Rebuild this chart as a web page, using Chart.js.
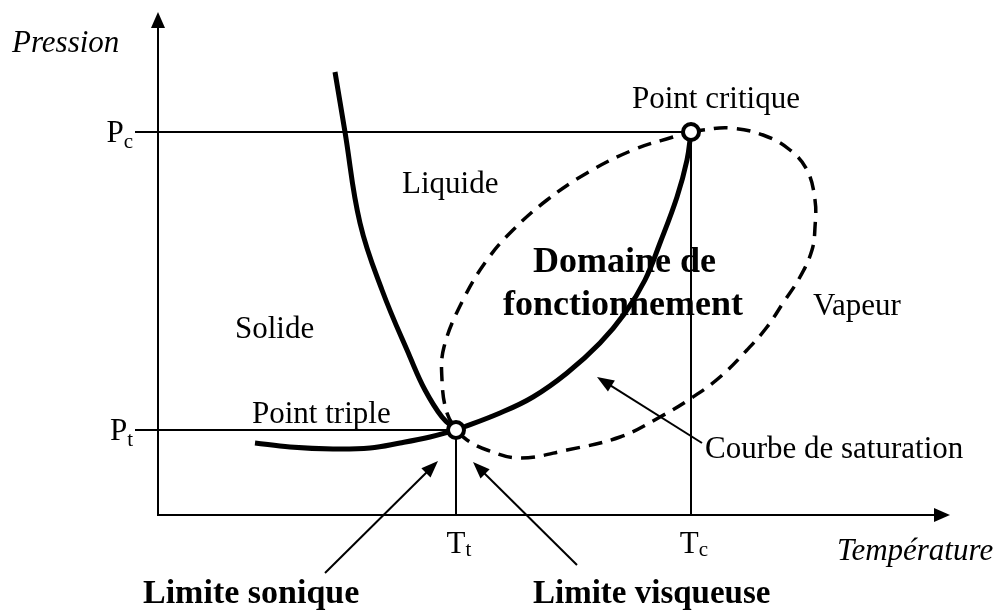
<!DOCTYPE html>
<html><head><meta charset="utf-8">
<script src="https://cdn.jsdelivr.net/npm/chart.js@4/dist/chart.umd.min.js"></script>
<style>html,body{margin:0;padding:0;background:#fff;}#wrap{width:1002px;height:611px;}</style>
</head><body><div id="wrap"><canvas id="c" width="1002" height="611"></canvas></div>
<script>
// ---- data (arbitrary units, origin at the axes' corner) ----
const T_TRIPLE = 2.98, P_TRIPLE = 0.85;
const T_CRIT = 5.33, P_CRIT = 3.83;
const T_TICK_LABELS = [['T', 't'], ['T', 'c']];
const P_TICK_LABELS = [['P', 't'], ['P', 'c']];

const fusionT = [1.77, 1.87, 2.02, 2.24, 2.52, 2.67, 2.84, 2.98];
const fusionP = [4.43, 3.83, 2.92, 2.25, 1.58, 1.25, 0.98, 0.85];

const sublimT = [0.97, 1.32, 1.75, 2.12, 2.42, 2.72, 2.98];
const sublimP = [0.72, 0.68, 0.66, 0.67, 0.72, 0.78, 0.85];

const vaporT = [2.98, 3.42, 3.75, 4.09, 4.42, 4.67, 4.87, 5.02, 5.19, 5.29, 5.33];
const vaporP = [0.85, 1.02, 1.18, 1.42, 1.72, 2.02, 2.35, 2.72, 3.18, 3.55, 3.83];

const satT = [5.33, 5.45, 5.72, 6.05, 6.32, 6.49, 6.57, 6.57, 6.54, 6.42, 6.25, 6.09, 5.89, 5.62, 5.35, 5.02, 4.62, 4.09, 3.62, 3.29, 3.09, 2.99, 2.89, 2.84, 2.86, 3.05, 3.29, 3.55, 3.89, 4.29, 4.75, 5.15, 5.33];
const satP = [3.83, 3.85, 3.87, 3.80, 3.65, 3.45, 3.15, 2.88, 2.65, 2.38, 2.12, 1.88, 1.65, 1.38, 1.18, 0.98, 0.78, 0.65, 0.57, 0.65, 0.75, 0.85, 1.02, 1.35, 1.68, 2.15, 2.55, 2.85, 3.15, 3.42, 3.65, 3.78, 3.83];

// ---- layout / annotation config (kept apart from data) ----
const X_MIN = -1.58, X_MAX = 8.44, Y_MIN = -0.96, Y_MAX = 5.15;
const AXIS_X_END = 7.92, AXIS_Y_END = 5.03, GUIDE_START = -0.23;
const SERIF = '"Liberation Serif", "Times New Roman", serif';
const texts = [
  {t: 'Pression', x: -1.46, y: 4.63, f: 'italic 31px ' + SERIF},
  {t: 'Température', x: 6.79, y: -0.45, f: 'italic 31px ' + SERIF},
  {t: 'Point critique', x: 4.74, y: 4.07, f: '31px ' + SERIF},
  {t: 'Liquide', x: 2.44, y: 3.22, f: '31px ' + SERIF},
  {t: 'Solide', x: 0.77, y: 1.77, f: '31px ' + SERIF},
  {t: 'Point triple', x: 0.94, y: 0.92, f: '31px ' + SERIF},
  {t: 'Vapeur', x: 6.55, y: 2.00, f: '31px ' + SERIF},
  {t: 'Courbe de saturation', x: 5.47, y: 0.57, f: '31px ' + SERIF},
  {t: 'Domaine de', x: 3.75, y: 2.43, f: 'bold 36px ' + SERIF},
  {t: 'fonctionnement', x: 3.45, y: 2.00, f: 'bold 36px ' + SERIF},
  {t: 'Limite sonique', x: -0.15, y: -0.88, f: 'bold 34px ' + SERIF},
  {t: 'Limite visqueuse', x: 3.75, y: -0.88, f: 'bold 33px ' + SERIF}
];
const arrows = [
  {from: [1.67, -0.58], to: [2.80, 0.54]},
  {from: [4.19, -0.50], to: [3.15, 0.53]},
  {from: [5.44, 0.72], to: [4.39, 1.38]}
];

const pts = (xs, ys) => xs.map((x, i) => ({x: x, y: ys[i]}));

function arrowHead(ctx, x1, y1, x2, y2, len, half) {
  const a = Math.atan2(y2 - y1, x2 - x1);
  ctx.beginPath();
  ctx.moveTo(x2, y2);
  ctx.lineTo(x2 - len * Math.cos(a) + half * Math.sin(a), y2 - len * Math.sin(a) - half * Math.cos(a));
  ctx.lineTo(x2 - len * Math.cos(a) - half * Math.sin(a), y2 - len * Math.sin(a) + half * Math.cos(a));
  ctx.closePath();
  ctx.fill();
}

const decor = {
  id: 'decor',
  beforeDatasetsDraw(chart) {
    const ctx = chart.ctx, xs = chart.scales.x, ys = chart.scales.y;
    const X = v => xs.getPixelForValue(v), Y = v => ys.getPixelForValue(v);
    ctx.save();
    ctx.fillStyle = '#000'; ctx.strokeStyle = '#000';
    // axes
    ctx.lineWidth = 2;
    ctx.beginPath();
    ctx.moveTo(X(0), Y(AXIS_Y_END) + 14); ctx.lineTo(X(0), Y(0));
    ctx.lineTo(X(AXIS_X_END) - 14, Y(0));
    ctx.stroke();
    arrowHead(ctx, X(0), Y(0), X(0), Y(AXIS_Y_END), 16, 7);
    arrowHead(ctx, X(0), Y(0), X(AXIS_X_END), Y(0), 16, 7);
    // texts
    ctx.textBaseline = 'alphabetic'; ctx.textAlign = 'left';
    texts.forEach(o => { ctx.font = o.f; ctx.fillText(o.t, X(o.x), Y(o.y)); });
    // tick labels with subscripts
    const pv = [P_TRIPLE, P_CRIT];
    pv.forEach((v, i) => {
      const [m, s] = P_TICK_LABELS[i];
      ctx.font = '31px ' + SERIF; const wm = ctx.measureText(m).width;
      ctx.font = '21px ' + SERIF; const ws = ctx.measureText(s).width;
      const right = X(GUIDE_START) - 2, base = Y(v) + 10;
      ctx.font = '31px ' + SERIF; ctx.fillText(m, right - ws - wm, base);
      ctx.font = '21px ' + SERIF; ctx.fillText(s, right - ws, base + 6);
    });
    const tv = [T_TRIPLE, T_CRIT];
    tv.forEach((v, i) => {
      const [m, s] = T_TICK_LABELS[i];
      ctx.font = '31px ' + SERIF; const wm = ctx.measureText(m).width;
      ctx.font = '21px ' + SERIF; const ws = ctx.measureText(s).width;
      const left = X(v) - (wm + ws) / 2 + 3, base = Y(0) + 38;
      ctx.font = '31px ' + SERIF; ctx.fillText(m, left, base);
      ctx.font = '21px ' + SERIF; ctx.fillText(s, left + wm, base + 3);
    });
    // arrows
    ctx.lineWidth = 2;
    arrows.forEach(a => {
      const x1 = X(a.from[0]), y1 = Y(a.from[1]), x2 = X(a.to[0]), y2 = Y(a.to[1]);
      const ang = Math.atan2(y2 - y1, x2 - x1);
      ctx.beginPath(); ctx.moveTo(x1, y1);
      ctx.lineTo(x2 - 12 * Math.cos(ang), y2 - 12 * Math.sin(ang)); ctx.stroke();
      arrowHead(ctx, x1, y1, x2, y2, 17, 6.5);
    });
    ctx.restore();
  }
};

const black = '#000';
new Chart(document.getElementById('c'), {
  type: 'scatter',
  data: {
    datasets: [
      {label: 'Points', data: [{x: T_TRIPLE, y: P_TRIPLE}, {x: T_CRIT, y: P_CRIT}], showLine: false,
       pointRadius: 8, pointBorderWidth: 4, pointBackgroundColor: '#fff', pointBorderColor: black},
      {label: 'Fusion', data: pts(fusionT, fusionP), showLine: true, borderColor: black, borderWidth: 5, pointRadius: 0, tension: 0.4},
      {label: 'Sublimation', data: pts(sublimT, sublimP), showLine: true, borderColor: black, borderWidth: 5, pointRadius: 0, tension: 0.4},
      {label: 'Vaporisation', data: pts(vaporT, vaporP), showLine: true, borderColor: black, borderWidth: 5, pointRadius: 0, tension: 0.4},
      {label: 'Saturation', data: pts(satT, satP), showLine: true, borderColor: black, borderWidth: 3.5, borderDash: [14, 9], pointRadius: 0, tension: 0.4},
      {label: 'Pc', data: [{x: GUIDE_START, y: P_CRIT}, {x: T_CRIT, y: P_CRIT}], showLine: true, borderColor: black, borderWidth: 2, pointRadius: 0},
      {label: 'Pt', data: [{x: GUIDE_START, y: P_TRIPLE}, {x: T_TRIPLE, y: P_TRIPLE}], showLine: true, borderColor: black, borderWidth: 2, pointRadius: 0},
      {label: 'Tc', data: [{x: T_CRIT, y: P_CRIT}, {x: T_CRIT, y: 0}], showLine: true, borderColor: black, borderWidth: 2, pointRadius: 0},
      {label: 'Tt', data: [{x: T_TRIPLE, y: P_TRIPLE}, {x: T_TRIPLE, y: 0}], showLine: true, borderColor: black, borderWidth: 2, pointRadius: 0}
    ]
  },
  options: {
    responsive: false, animation: false, events: [],
    layout: {padding: 0, autoPadding: false},
    scales: {
      x: {type: 'linear', display: false, min: X_MIN, max: X_MAX},
      y: {type: 'linear', display: false, min: Y_MIN, max: Y_MAX}
    },
    plugins: {legend: {display: false}, tooltip: {enabled: false}}
  },
  plugins: [decor]
});
</script></body></html>
